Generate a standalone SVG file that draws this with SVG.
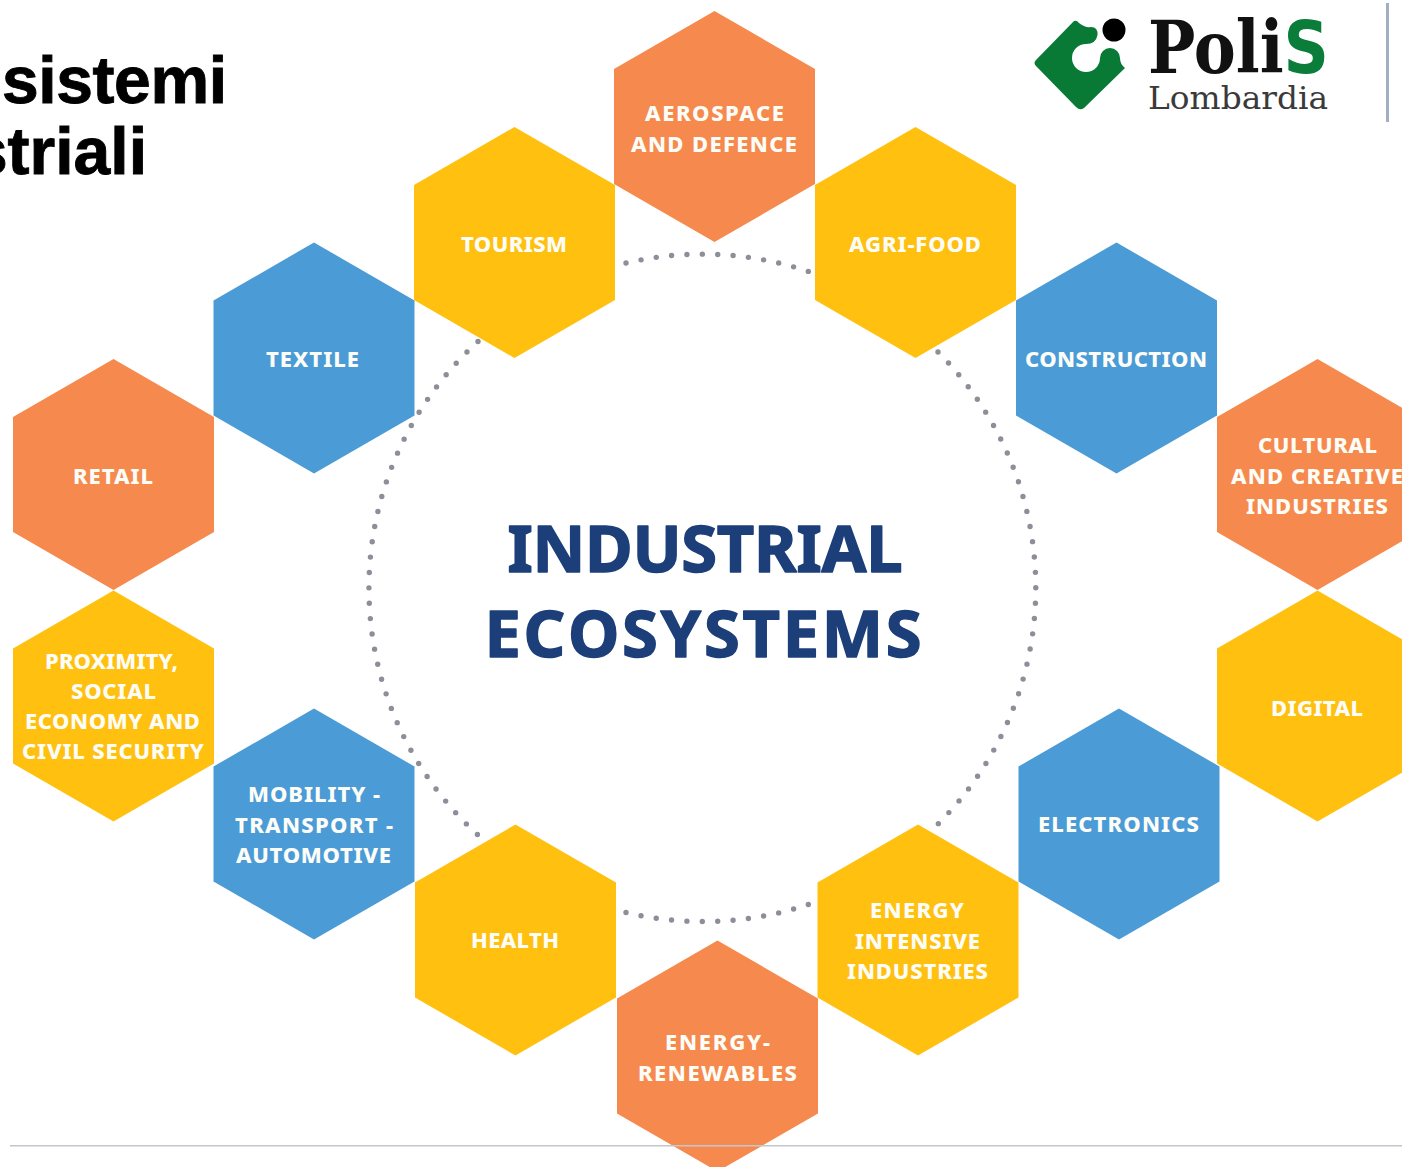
<svg xmlns="http://www.w3.org/2000/svg" width="1402" height="1167" viewBox="0 0 1402 1167">
<style>
.o{fill:#f68a4e}.y{fill:#ffc010}.b{fill:#4b9bd6}
.l{font:800 22px "Noto Sans","Liberation Sans",sans-serif;fill:#fdfdf8;text-anchor:middle}
.c{font:700 65px "Noto Sans","Liberation Sans",sans-serif;fill:#1c3f7a;stroke:#1c3f7a;stroke-width:1.500;stroke-linejoin:round;text-anchor:middle;font-kerning:none}
.t{font:700 66px "Liberation Sans",Arial,sans-serif;fill:#000;stroke:#000;stroke-width:.9}
.d{fill:none;stroke:#8e8e98;stroke-width:5.400;stroke-linecap:round;stroke-dasharray:0 15.400}
</style>
<defs><polygon id="hex" points="0,-115.500 100.500,-57.500 100.500,57.500 0,115.500 -100.500,57.500 -100.500,-57.500"/></defs>
<rect width="1402" height="1167" fill="#fff"/>
<g id="connectors">
<path class="d" d="M626,263 A333.700,333.700 0 0 1 810,272"/>
<path class="d" d="M938,352 A333.700,333.700 0 0 1 938,824"/>
<path class="d" d="M626,912.500 A333.700,333.700 0 0 0 810,904"/>
<path class="d" d="M478,341.500 A333.700,333.700 0 0 0 478,835"/>
</g>
<g id="title"><text class="t" x="2" y="103" textLength="225" lengthAdjust="spacing">sistemi</text><text class="t" x="147" y="173.500" text-anchor="end">striali</text></g>
<g id="aerospace"><use href="#hex" class="o" x="714.500" y="126.500"/><text class="l" x="714.500" y="121" textLength="139">AEROSPACE</text><text class="l" x="714" y="152" textLength="166">AND DEFENCE</text></g>
<g id="tourism"><use href="#hex" class="y" x="514.500" y="242.500"/><text class="l" x="514" y="252" textLength="106">TOURISM</text></g>
<g id="agri-food"><use href="#hex" class="y" x="915.500" y="242.500"/><text class="l" x="915" y="252" textLength="132">AGRI-FOOD</text></g>
<g id="textile"><use href="#hex" class="b" x="314" y="358"/><text class="l" x="312.500" y="367" textLength="93">TEXTILE</text></g>
<g id="construction"><use href="#hex" class="b" x="1116.500" y="358"/><text class="l" x="1116" y="367" textLength="182">CONSTRUCTION</text></g>
<g id="retail"><use href="#hex" class="o" x="113.500" y="474.500"/><text class="l" x="113" y="484" textLength="80">RETAIL</text></g>
<g id="cultural"><use href="#hex" class="o" x="1317.500" y="474.500"/><text class="l" x="1317.500" y="453" textLength="119">CULTURAL</text><text class="l" x="1317" y="484" textLength="172">AND CREATIVE</text><text class="l" x="1317" y="514" textLength="142">INDUSTRIES</text></g>
<g id="proximity"><use href="#hex" class="y" x="113.500" y="706"/><text class="l" x="111.500" y="669" textLength="133">PROXIMITY,</text><text class="l" x="113.500" y="699" textLength="85">SOCIAL</text><text class="l" x="112.500" y="729" textLength="175">ECONOMY AND</text><text class="l" x="113" y="759" textLength="182">CIVIL SECURITY</text></g>
<g id="digital"><use href="#hex" class="y" x="1317.500" y="706"/><text class="l" x="1317" y="716" textLength="92">DIGITAL</text></g>
<g id="mobility"><use href="#hex" class="b" x="314" y="824"/><text class="l" x="314" y="802" textLength="132">MOBILITY -</text><text class="l" x="314" y="833" textLength="158">TRANSPORT -</text><text class="l" x="313.500" y="863" textLength="155">AUTOMOTIVE</text></g>
<g id="electronics"><use href="#hex" class="b" x="1119" y="824"/><text class="l" x="1118.500" y="832" textLength="161">ELECTRONICS</text></g>
<g id="health"><use href="#hex" class="y" x="515.500" y="940"/><text class="l" x="515" y="948" textLength="88">HEALTH</text></g>
<g id="energy-intensive"><use href="#hex" class="y" x="918" y="940"/><text class="l" x="917" y="918" textLength="94">ENERGY</text><text class="l" x="917.500" y="949" textLength="125">INTENSIVE</text><text class="l" x="917.500" y="979" textLength="141">INDUSTRIES</text></g>
<g id="renewables"><use href="#hex" class="o" x="717.500" y="1056"/><text class="l" x="717.500" y="1050" textLength="105">ENERGY-</text><text class="l" x="717.500" y="1081" textLength="159">RENEWABLES</text></g>
<g id="center"><text class="c" x="705" y="571.500" textLength="395">INDUSTRIAL</text><text class="c" x="703" y="656.500" textLength="437">ECOSYSTEMS</text></g>
<g id="logo">
<path d="M1036,60 L1073,22 Q1076,19 1079,23 Q1085,28 1091,27 Q1098,27 1097.500,35 Q1096,44 1086,44 A14,14 0 1 0 1100,58 A10,10 0 0 1 1120,58 Q1120,64 1125,68 L1084,108 Q1080,111 1076,107 L1036,66 Q1033,63 1036,60 Z" fill="#087a36"/>
<circle cx="1114" cy="30" r="11.500" fill="#000"/>
<text x="1148" y="73" font-family="'DejaVu Serif',serif" font-weight="700" font-size="73" fill="#111" textLength="181" lengthAdjust="spacingAndGlyphs">Poli<tspan fill="#0b7d3a" font-family="'DejaVu Sans',sans-serif">S</tspan></text>
<text x="1148" y="109" font-family="'DejaVu Serif',serif" font-size="31" fill="#3a3a3a" textLength="180" lengthAdjust="spacingAndGlyphs">Lombardia</text>
</g>
<rect id="divider" x="1386" y="3" width="3" height="119" fill="#a3aec0"/>
<rect id="rule" x="10" y="1145" width="1392" height="1.500" fill="#c4c6cb"/>
</svg>
